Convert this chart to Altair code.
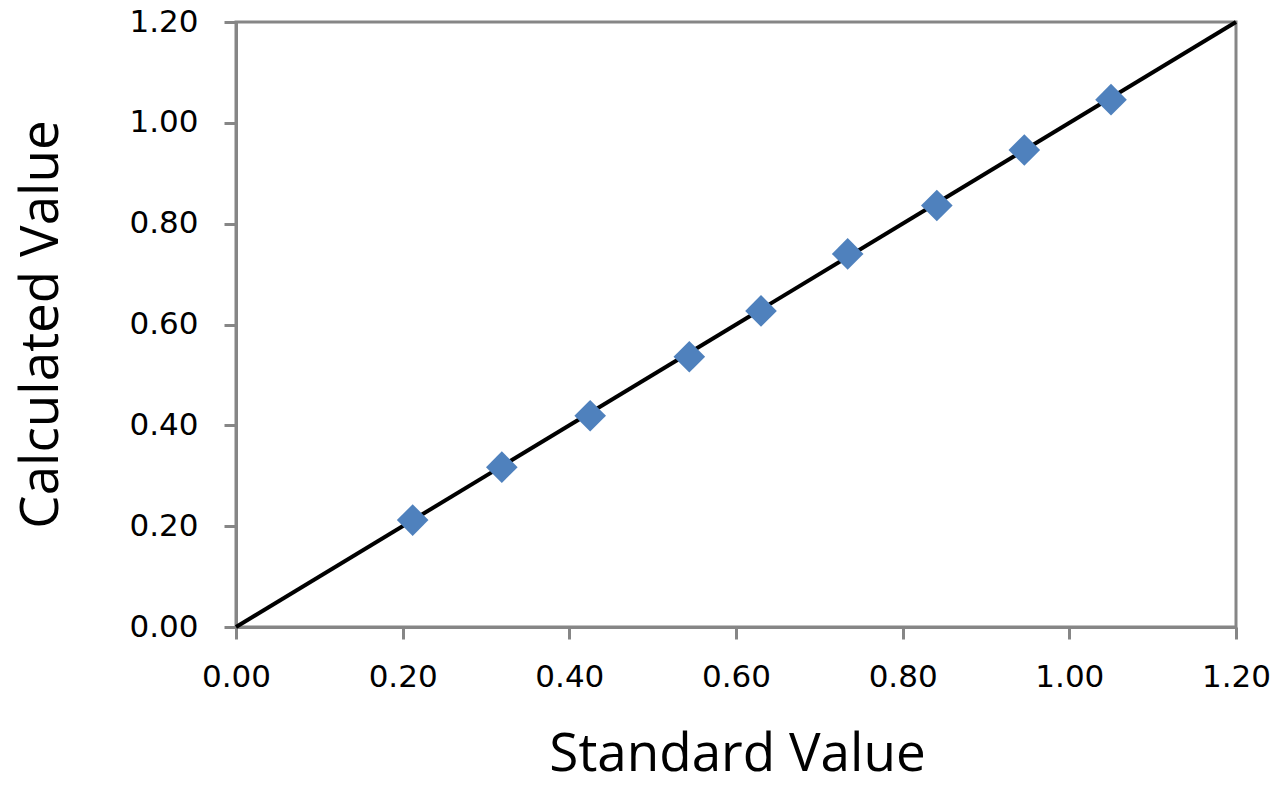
import pandas as pd
import altair as alt

# standard vs calculated values
standard = [0.212, 0.319, 0.425, 0.544, 0.630, 0.734, 0.841, 0.946, 1.050]
calculated = [0.212, 0.317, 0.419, 0.536, 0.627, 0.740, 0.836, 0.946, 1.046]
line_x = [0.0, 1.2]
line_y = [0.0, 1.2]
ticks = [0.0, 0.2, 0.4, 0.6, 0.8, 1.0, 1.2]

pts = pd.DataFrame({"standard": standard, "calculated": calculated})
ref = pd.DataFrame({"standard": line_x, "calculated": line_y})

x_scale = alt.Scale(domain=[0, 1.2], nice=False, zero=False)
y_scale = alt.Scale(domain=[0, 1.2], nice=False, zero=False)

x_axis = alt.Axis(
    title="Standard Value", values=ticks, format=".2f",
    titleX=501, titleY=143, titleBaseline="alphabetic", titleAlign="center",
    labelPadding=23, labelFlush=False,
)
y_axis = alt.Axis(
    title="Calculated Value", values=ticks, format=".2f",
    titleX=-179, titleY=302, titleAngle=-90, titleBaseline="alphabetic",
    titleAlign="center", labelPadding=26, labelFlush=False,
)

line = alt.Chart(ref).mark_line(color="black", strokeWidth=4).encode(
    x=alt.X("standard:Q", scale=x_scale, axis=x_axis),
    y=alt.Y("calculated:Q", scale=y_scale, axis=y_axis),
)

points = alt.Chart(pts).mark_point(
    shape="diamond", filled=True, size=1000, color="#4F81BD", opacity=1
).encode(
    x=alt.X("standard:Q", scale=x_scale),
    y=alt.Y("calculated:Q", scale=y_scale),
)

chart = (line + points).properties(
    width=1000, height=605,
    autosize=alt.AutoSizeParams(type="none"),
    padding={"left": 228, "top": 14, "right": 34, "bottom": 158},
).configure_view(
    stroke="#868686", strokeWidth=3
).configure_axis(
    grid=False,
    domainColor="#868686", domainWidth=3,
    tickColor="#868686", tickWidth=3, tickSize=12,
    labelFont="DejaVu Sans", labelFontSize=31, labelColor="black",
    labelBound=False,
    titleFont="Open Sans", titleFontSize=53, titleFontWeight="normal",
    titleColor="black",
)

chart.save("out.html", embed_options={"renderer": "svg", "actions": False})
